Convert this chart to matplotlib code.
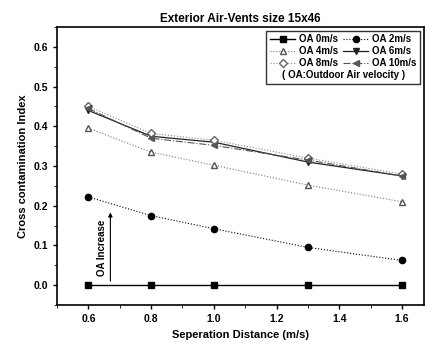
import matplotlib.pyplot as plt
from matplotlib.ticker import MultipleLocator

plt.rcParams['font.family'] = ['Liberation Sans', 'DejaVu Sans']
plt.rcParams['font.weight'] = 'bold'

distance = [0.6, 0.8, 1.0, 1.3, 1.6]
oa0 = [0.0, 0.0, 0.0, 0.0, 0.0]
oa2 = [0.222, 0.175, 0.142, 0.095, 0.062]
oa4 = [0.395, 0.335, 0.302, 0.252, 0.21]
oa6 = [0.44, 0.375, 0.36, 0.31, 0.275]
oa8 = [0.45, 0.382, 0.365, 0.32, 0.28]
oa10 = [0.445, 0.37, 0.352, 0.315, 0.275]

fig = plt.figure(figsize=(4.26, 3.43), dpi=100)
ax = fig.add_axes([0.134, 0.111, 0.861, 0.81])

l0, = ax.plot(distance, oa0, '-', color='black', lw=1.0, marker='s', ms=4.5, label='OA 0m/s')
l2, = ax.plot(distance, oa2, ':', color='black', lw=0.8, marker='o', ms=4.5, label='OA 2m/s')
l4, = ax.plot(distance, oa4, ':', color='#777777', lw=0.8, marker='^', ms=4.5, mfc='white', mec='#555555', label='OA 4m/s')
l6, = ax.plot(distance, oa6, '-', color='#222222', lw=0.9, marker='v', ms=4.5, label='OA 6m/s')
l8, = ax.plot(distance, oa8, ':', color='#888888', lw=0.8, marker='D', ms=4, mfc='white', mec='#666666', label='OA 8m/s')
l10, = ax.plot(distance, oa10, '-.', color='#555555', lw=0.8, marker='<', ms=4.5, label='OA 10m/s')

ax.annotate('', xy=(0.67, 0.19), xytext=(0.67, 0.003),
            arrowprops=dict(arrowstyle='-|>', color='black', lw=0.8, mutation_scale=6))
ax.text(0.643, 0.095, 'OA Increase', rotation=90, ha='center', va='center', fontsize=7)

ax.set_xlim(0.5, 1.67)
ax.set_ylim(-0.05, 0.65)
ax.xaxis.set_minor_locator(MultipleLocator(0.1))
ax.yaxis.set_minor_locator(MultipleLocator(0.05))
ax.set_xticks([0.6, 0.8, 1.0, 1.2, 1.4, 1.6])
ax.set_yticks([0.0, 0.1, 0.2, 0.3, 0.4, 0.5, 0.6])
ax.tick_params(labelsize=7.5, width=1, length=3)
ax.tick_params(which='minor', length=2)
for s in ax.spines.values():
    s.set_linewidth(1.2)

ax.set_title('Exterior Air-Vents size 15x46', fontsize=8.5, fontweight='bold', pad=4)
ax.set_xlabel('Seperation Distance (m/s)', fontsize=8, fontweight='bold', labelpad=4)
ax.set_ylabel('Cross contamination Index', fontsize=8, fontweight='bold', labelpad=4)

# row-wise order like the original: 0/2, 4/6, 8/10
handles = [l0, l4, l8, l2, l6, l10]
leg = ax.legend(handles=handles, labels=[h.get_label() for h in handles],
                ncol=2, loc='upper right', fontsize=7, frameon=True, fancybox=False,
                edgecolor='black', handlelength=2.6, columnspacing=0.5, handletextpad=0.4,
                labelspacing=0.2, borderpad=0.35, borderaxespad=0.4,
                title='( OA:Outdoor Air velocity )', title_fontsize=7)
leg.get_frame().set_linewidth(1.0)
# move title under the entries
box = leg._legend_box
box._children = [box._children[1], box._children[0]]

fig.savefig('out.png', dpi=100)
